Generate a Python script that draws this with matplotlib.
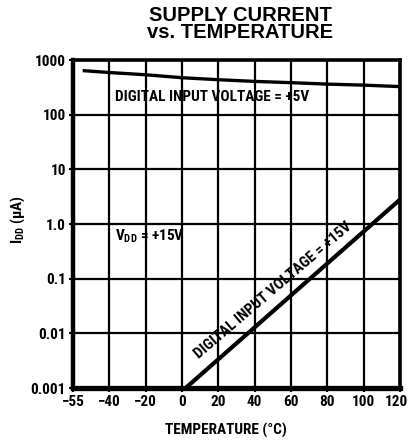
import numpy as np
import matplotlib
matplotlib.use("Agg")
import matplotlib.pyplot as plt
from matplotlib import font_manager as fm
import matplotlib.transforms as mtrans

# Data
x_ticks = [-55, -40, -20, 0, 20, 40, 60, 80, 100, 120]
x_ticklabels = ["\u221255", "\u221240", "\u221220", "0", "20", "40", "60", "80", "100", "120"]
y_ticks = [0.001, 0.01, 0.1, 1.0, 10, 100, 1000]
y_ticklabels = ["0.001", "0.01", "0.1", "1.0", "10", "100", "1000"]

temp_5v = [-51, -40, -20, 0, 20, 40, 60, 80, 100, 120]
idd_5v = [640, 590, 537, 474, 436, 406, 385, 362, 347, 326]

temp_15v = [2, 120]
idd_15v = [0.001, 2.8]

names = {f.name for f in fm.fontManager.ttflist}
cands = ['Liberation Sans Narrow', 'DejaVu Sans Condensed', 'Roboto Condensed', 'Open Sans Condensed']
COND = [c for c in cands if c in names] + ['DejaVu Sans']
have_cond = len(COND) > 1
FS = 11.0 if have_cond else 9.2
STRETCH = 'condensed'

fig = plt.figure(figsize=(4.08, 4.40), dpi=100)
ax = fig.add_axes([73/408, 1-388/440, (400-73)/408, (388-60)/440])

idx = np.arange(len(x_ticks), dtype=float)
fwd = lambda t: np.interp(t, x_ticks, idx)
inv = lambda i: np.interp(i, idx, x_ticks)
ax.set_xscale('function', functions=(fwd, inv))
ax.set_yscale('log')
ax.set_xlim(-55, 120)
ax.set_ylim(0.001, 1000)

ax.plot(temp_5v, idd_5v, color='black', lw=2.4, solid_capstyle='butt', zorder=3)
ax.plot(temp_15v, idd_15v, color='black', lw=3.0, solid_capstyle='butt', zorder=3)

ax.set_xticks(x_ticks)
ax.set_xticklabels(x_ticklabels)
ax.set_yticks(y_ticks)
ax.set_yticklabels(y_ticklabels)
ax.yaxis.set_minor_locator(matplotlib.ticker.NullLocator())
ax.grid(True, color='black', lw=1.6)
ax.set_axisbelow(True)
ax.tick_params(axis='both', length=3, width=1.5, color='black', pad=2)
for lab in ax.get_xticklabels() + ax.get_yticklabels():
    lab.set_fontfamily(COND)
    lab.set_fontweight('bold')
    lab.set_fontstretch(STRETCH)
    lab.set_fontsize(FS)

# keep the last x tick label inside the figure
fig.canvas.draw()
last = ax.get_xticklabels()[-1]
last.set_transform(last.get_transform() + mtrans.ScaledTranslation(-4/100, 0, fig.dpi_scale_trans))

for s, w in [('left', 3.2), ('bottom', 3.8), ('top', 2.6), ('right', 2.6)]:
    ax.spines[s].set_linewidth(w)
    ax.spines[s].set_color('black')

tkw = dict(family=COND, fontweight='bold', fontstretch=STRETCH, fontsize=FS, zorder=4)
ax.text(-37, 210, "DIGITAL INPUT VOLTAGE = +5V", ha='left', va='center', **tkw)
ax.text(-37, 0.6, "V$_{\\mathregular{DD}}$ = +15V", ha='left', va='center', **tkw)
ax.text(50, 0.062, "DIGITAL INPUT VOLTAGE = +15V", ha='center', va='center',
        rotation=40.5, rotation_mode='anchor', **tkw)

ax.set_xlabel("TEMPERATURE (\u00b0C)", family=COND, fontweight='bold',
              fontstretch=STRETCH, fontsize=FS)
ax.set_ylabel("I$_{\\mathregular{DD}}$ (\u03bcA)", family=COND, fontweight='bold',
              fontstretch=STRETCH, fontsize=FS)
ax.xaxis.set_label_coords((226-73)/327, (388-430)/328)
ax.yaxis.set_label_coords((18-73)/327, (388-220)/328)
ax.xaxis.label.set_va('center')
ax.yaxis.label.set_va('center')

fig.text(240/408, 1-6/440, "SUPPLY CURRENT\nvs. TEMPERATURE", family=['Liberation Sans', 'DejaVu Sans'],
         fontweight='bold', fontsize=14.5, ha='center', va='top', linespacing=0.9)

fig.savefig("out.png", dpi=100)
